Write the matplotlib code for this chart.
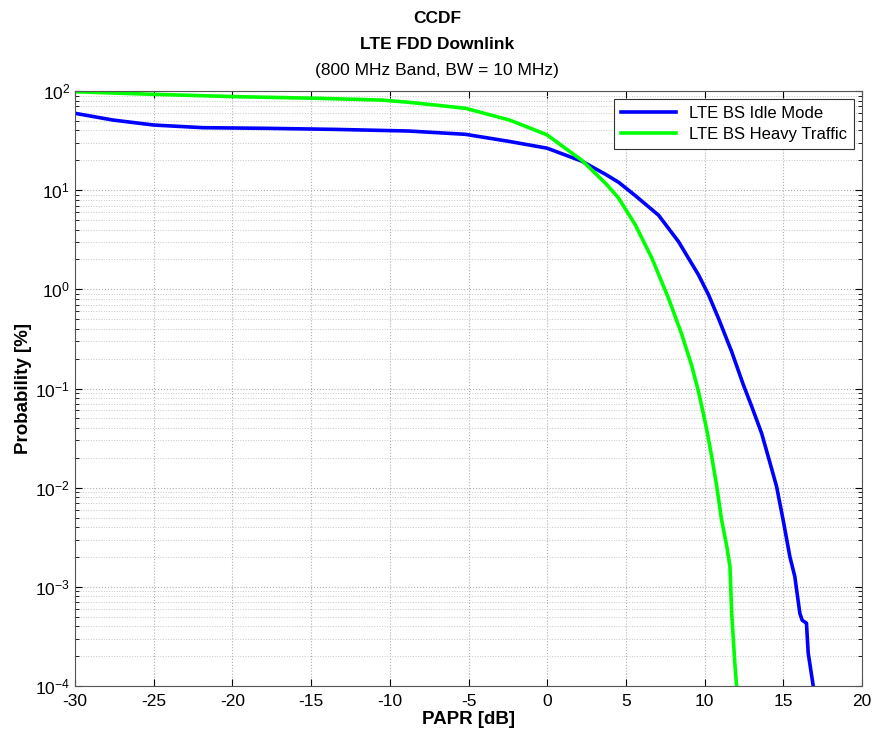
import matplotlib
matplotlib.use("Agg")
import matplotlib.pyplot as plt
from matplotlib.ticker import LogLocator, NullFormatter, MultipleLocator

plt.rcParams['font.family'] = ['Liberation Sans', 'DejaVu Sans']
plt.rcParams['mathtext.default'] = 'regular'
plt.rcParams['axes.unicode_minus'] = False

# PAPR [dB] vs CCDF probability [%]
idle_papr = [-30, -27.6, -25, -21.9, -17.6, -13.4, -8.8, -5.2, -2.4, 0, 2.2, 3.69,
             4.54, 5.6, 7.07, 8.34, 9.61, 10.25, 10.88, 11.72, 12.46, 12.99, 13.62,
             14.04, 14.57, 14.99, 15.42, 15.73, 16.05, 16.2, 16.47, 16.58, 16.9]
idle_prob = [59.6, 51, 45.4, 42.7, 42, 41, 39.5, 36.6, 31, 26.5, 19.6, 14.5,
             12.0, 8.8, 5.6, 3.03, 1.40, 0.88, 0.51, 0.235, 0.109, 0.066, 0.0354,
             0.0206, 0.0103, 0.0047, 0.0020, 0.00127, 0.00054, 0.00046, 0.00043, 0.000215, 0.0001]

heavy_papr = [-30, -25, -19.75, -14.5, -10.5, -8.8, -5.2, -2.4, -0.53, 0, 2.2, 3.69,
              4.54, 5.6, 6.65, 7.71, 8.55, 9.18, 9.61, 9.82, 10.14, 10.45, 10.77,
              11.08, 11.4, 11.61, 11.72, 11.93, 12.03]
heavy_prob = [98.4, 92.6, 87.7, 84.4, 81, 77, 67, 51, 39, 36, 20, 11.8,
              8.3, 4.46, 2.06, 0.81, 0.35, 0.17, 0.093, 0.066, 0.038, 0.0206, 0.0103,
              0.0047, 0.0026, 0.0016, 0.00054, 0.00016, 0.0001]

fig = plt.figure(figsize=(8.74, 7.4), dpi=100)
ax = fig.add_axes([0.0858, 0.073, 0.9005, 0.804])

ax.semilogy(idle_papr, idle_prob, color='#0000FF', linewidth=2.6,
            solid_joinstyle='round', label='LTE BS Idle Mode')
ax.semilogy(heavy_papr, heavy_prob, color='#00FF00', linewidth=2.6,
            solid_joinstyle='round', label='LTE BS Heavy Traffic')

ax.set_xlim(-30, 20)
ax.set_ylim(1e-4, 1e2)
ax.xaxis.set_major_locator(MultipleLocator(5))
ax.yaxis.set_major_locator(LogLocator(base=10, numticks=10))
ax.yaxis.set_minor_locator(LogLocator(base=10, subs=range(2, 10), numticks=100))
ax.yaxis.set_minor_formatter(NullFormatter())

ax.grid(True, which='major', linestyle=':', color='#b0b0b0', linewidth=0.8)
ax.grid(True, which='minor', axis='y', linestyle=':', color='#c8c8c8', linewidth=0.7)

ax.tick_params(which='both', direction='in', top=True, right=True, labelsize=12.5)
ax.tick_params(axis='x', pad=6)
ax.tick_params(which='major', length=5)
ax.tick_params(which='minor', length=3)
for s in ax.spines.values():
    s.set_color('#555555')

ax.set_xlabel('PAPR [dB]', fontsize=13.5, fontweight='bold', labelpad=1)
ax.set_ylabel('Probability [%]', fontsize=13.5, fontweight='bold', labelpad=2)

fig.text(0.5, 0.975, 'CCDF', ha='center', va='center', fontsize=12.5, fontweight='bold')
fig.text(0.5, 0.94, 'LTE FDD Downlink', ha='center', va='center', fontsize=12.5, fontweight='bold')
fig.text(0.5, 0.905, '(800 MHz Band, BW = 10 MHz)', ha='center', va='center', fontsize=12.5)

leg = ax.legend(loc='upper right', fontsize=12, fancybox=False, framealpha=1,
                edgecolor='#333333', borderaxespad=0.5, handlelength=3.3,
                borderpad=0.4, labelspacing=0.35)
leg.get_frame().set_linewidth(0.8)

fig.savefig('out.png', dpi=100)
